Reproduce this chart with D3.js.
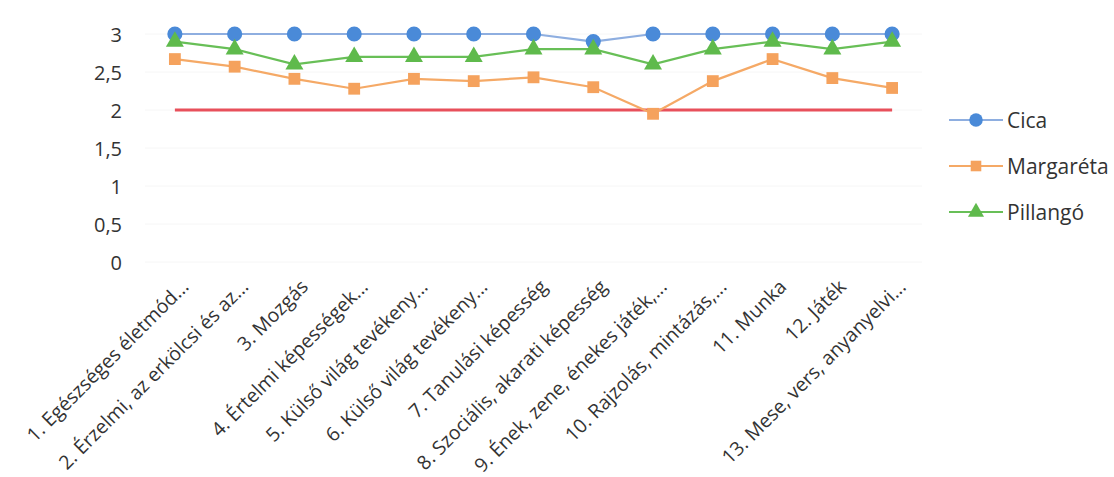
<!DOCTYPE html>
<html><head><meta charset="utf-8">
<script src="https://cdn.jsdelivr.net/npm/d3@7"></script>
<style>body{margin:0;background:#fff}svg{font-family:"Open Sans",Calibri,sans-serif}</style>
</head><body><svg id="c" width="1114" height="477"></svg>
<script>
const categories = ["1. Egészséges életmód...","2. Érzelmi, az erkölcsi és az...","3. Mozgás","4. Értelmi képességek...","5. Külső világ tevékeny...","6. Külső világ tevékeny...","7. Tanulási képesség","8. Szociális, akarati képesség","9. Ének, zene, énekes játék,...","10. Rajzolás, mintázás,...","11. Munka","12. Játék","13. Mese, vers, anyanyelvi..."];
const cica = [3,3,3,3,3,3,3,2.9,3,3,3,3,3];
const margareta = [2.67,2.57,2.41,2.28,2.41,2.38,2.43,2.30,1.95,2.38,2.67,2.42,2.29];
const pillango = [2.9,2.8,2.6,2.7,2.7,2.7,2.8,2.8,2.6,2.8,2.9,2.8,2.9];
const threshold = [2,2,2,2,2,2,2,2,2,2,2,2,2];
const yTicks = [0,0.5,1,1.5,2,2.5,3];
const seriesNames = ["Cica","Margaréta","Pillangó"];

const svg = d3.select("#c");
const x = d3.scaleBand().domain(categories).range([145,922]);
const y = d3.scaleLinear().domain([0,3]).range([262,34]);
const cx = d => x(d)+x.bandwidth()/2;

// gridlines (very faint)
svg.append("g").selectAll("line").data(yTicks).join("line")
  .attr("x1",145).attr("x2",922).attr("y1",d=>y(d)).attr("y2",d=>y(d))
  .attr("stroke","#f6f6f6").attr("stroke-width",1);

// y axis labels
const fmt = d => String(d).replace(".",",");
const ya = svg.append("g").attr("transform","translate(125,0)")
  .call(d3.axisLeft(y).tickValues(yTicks).tickFormat(fmt).tickSize(0));
ya.select(".domain").remove();
ya.selectAll("text").attr("font-size",20).attr("fill","#333").attr("font-family","Open Sans, sans-serif").attr("dy","0.36em");

// x axis labels
const xa = svg.append("g").attr("transform","translate(0,272)")
  .call(d3.axisBottom(x).tickSize(0));
xa.select(".domain").remove();
xa.selectAll("text").attr("font-size",19.5).attr("fill","#333").attr("font-family","Open Sans, sans-serif")
  .attr("text-anchor","end").attr("dy",0).attr("y",0)
  .attr("transform","translate(15,16) rotate(-45)");

const line = d3.line().x((d,i)=>cx(categories[i])).y(d=>y(d));

// threshold line
svg.append("path").datum(threshold).attr("d",line).attr("fill","none").attr("stroke","#e8505b").attr("stroke-width",3);

const series = [
  {name:seriesNames[0], vals:cica, line:"#8eaee0", mark:"#4a8ad8", shape:d3.symbolCircle, size:180},
  {name:seriesNames[1], vals:margareta, line:"#f5a966", mark:"#f5a25d", shape:d3.symbolSquare, size:140},
  {name:seriesNames[2], vals:pillango, line:"#68bf57", mark:"#5fba4c", shape:d3.symbolTriangle, size:140}
];
series.forEach(s=>{
  svg.append("path").datum(s.vals).attr("d",line).attr("fill","none").attr("stroke",s.line).attr("stroke-width",2.2);
  svg.append("g").selectAll("path").data(s.vals).join("path")
    .attr("transform",(d,i)=>`translate(${cx(categories[i])},${y(d)})`)
    .attr("d",d3.symbol().type(s.shape).size(s.size)).attr("fill",s.mark);
});

// legend
const lg = svg.append("g");
series.forEach((s,i)=>{
  const yy = 120 + i*46;
  lg.append("line").attr("x1",949).attr("x2",1003).attr("y1",yy).attr("y2",yy).attr("stroke",s.line).attr("stroke-width",2.2);
  lg.append("path").attr("transform",`translate(976,${yy})`).attr("d",d3.symbol().type(s.shape).size(s.size*0.8)).attr("fill",s.mark);
  lg.append("text").attr("x",1007).attr("y",yy).attr("dy","0.36em").attr("font-size",21).attr("fill","#333").text(s.name);
});
</script></body></html>
